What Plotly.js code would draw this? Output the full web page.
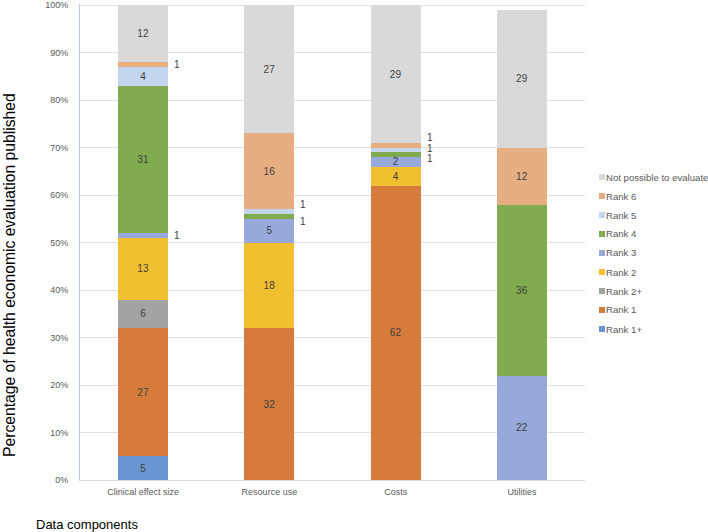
<!DOCTYPE html>
<html>
<head>
<meta charset="utf-8">
<script src="https://cdn.plot.ly/plotly-3.0.1.min.js"></script>
<style>html,body{margin:0;padding:0;background:#fff;}#chart{width:708px;height:532px;}</style>
</head>
<body>
<div id="chart"></div>
<script>
// ---- data ----
var categories = ['Clinical effect size', 'Resource use', 'Costs', 'Utilities'];
var seriesNames = ['Rank 1+', 'Rank 1', 'Rank 2+', 'Rank 2', 'Rank 3', 'Rank 4', 'Rank 5', 'Rank 6', 'Not possible to evaluate'];
var rank1plus = [5, null, null, null];
var rank1     = [27, 32, 62, null];
var rank2plus = [6, null, null, null];
var rank2     = [13, 18, 4, null];
var rank3     = [1, 5, 2, 22];
var rank4     = [31, 1, 1, 36];
var rank5     = [4, 1, 1, null];
var rank6     = [1, 16, 1, 12];
var notPossible = [12, 27, 29, 29];
var yTickVals = [0, 10, 20, 30, 40, 50, 60, 70, 80, 90, 100];

// ---- styling ----
var colors = ['#6A95D3', '#D67B3B', '#A3A3A3', '#F1BF2F', '#97A9DB', '#80AB4F', '#C4D6EF', '#E7AE82', '#D9D9D9'];
var FONT = 'Liberation Sans, Arial, sans-serif';
var W = 708, H = 532;
var M = {l: 80, r: 123, t: 4, b: 52};
var PW = W - M.l - M.r, PH = H - M.t - M.b;
function px2x(p) { return (p - M.l) / PW; }
function px2y(p) { return (H - M.b - p) / PH; }
// vertical nudges (px) for outside labels of thin segments, keyed "categoryIndex-seriesIndex"
var labelNudge = {'1-5': -5, '1-6': 7, '2-5': -4, '2-6': 2, '2-7': 7.5};

var allSeries = [rank1plus, rank1, rank2plus, rank2, rank3, rank4, rank5, rank6, notPossible];

var traces = allSeries.map(function (vals, si) {
  return {
    type: 'bar',
    name: seriesNames[si],
    x: categories,
    y: vals,
    marker: {color: colors[si]},
    text: vals.map(function (v) { return (v !== null && v > 1) ? String(v) : ''; }),
    textposition: 'inside',
    insidetextanchor: 'middle',
    textangle: 0,
    constraintext: 'none',
    textfont: {family: FONT, size: 10, color: '#404040'},
    hoverinfo: 'skip',
    showlegend: false
  };
});

var annotations = [];
var shapes = [];

// outside labels for thin (value 1) segments
categories.forEach(function (cat, ci) {
  var cum = 0;
  allSeries.forEach(function (vals, si) {
    var v = vals[ci];
    if (v === null) return;
    if (v <= 1) {
      annotations.push({
        x: cat, y: cum + v / 2, xref: 'x', yref: 'y',
        text: String(v), showarrow: false,
        xanchor: 'left', yanchor: 'middle',
        xshift: 29, yshift: labelNudge[ci + '-' + si] || 0,
        font: {family: FONT, size: 10, color: '#404040'}
      });
    }
    cum += v;
  });
});

// legend (reversed order: last series on top)
var legTop = 177, legStep = 19, swL = 599, sw = 6, txtL = 604;
for (var k = 0; k < seriesNames.length; k++) {
  var si = seriesNames.length - 1 - k;
  var cy = legTop + k * legStep;
  shapes.push({
    type: 'rect', xref: 'paper', yref: 'paper',
    x0: px2x(swL), x1: px2x(swL + sw), y0: px2y(cy + sw / 2), y1: px2y(cy - sw / 2),
    fillcolor: colors[si], line: {width: 0}
  });
  annotations.push({
    text: seriesNames[si], xref: 'paper', yref: 'paper',
    x: px2x(txtL), y: px2y(cy), xanchor: 'left', yanchor: 'middle', showarrow: false,
    font: {family: FONT, size: 9.6, color: '#595959'}
  });
}

annotations.push({
  text: 'Percentage of health economic evaluation published',
  xref: 'paper', yref: 'paper', x: px2x(9.5), y: px2y(275.5),
  xanchor: 'center', yanchor: 'middle', textangle: -90, showarrow: false,
  font: {family: FONT, size: 15.7, color: '#000000'}
});
annotations.push({
  text: 'Data components',
  xref: 'paper', yref: 'paper', x: px2x(34), y: px2y(524),
  xanchor: 'left', yanchor: 'middle', showarrow: false,
  font: {family: FONT, size: 13, color: '#000000'}
});

var layout = {
  width: W, height: H,
  margin: {l: M.l, r: M.r, t: M.t, b: M.b, pad: 0},
  paper_bgcolor: '#ffffff', plot_bgcolor: '#ffffff',
  barmode: 'stack',
  bargap: 0.604,
  showlegend: false,
  xaxis: {
    type: 'category',
    showline: true, linecolor: '#D9D9D9', linewidth: 1,
    ticks: '', showgrid: false, zeroline: false,
    ticklabelstandoff: 3,
    tickfont: {family: FONT, size: 9, color: '#595959'},
    fixedrange: true
  },
  yaxis: {
    range: [0, 100.25],
    tickvals: yTickVals,
    ticktext: yTickVals.map(function (t) { return t + '%'; }),
    showline: true, linecolor: '#B9CBE6', linewidth: 1,
    showgrid: true, gridcolor: '#E0E0E0', gridwidth: 1,
    zeroline: false, ticks: '',
    ticklabelstandoff: 9,
    tickfont: {family: FONT, size: 9, color: '#595959'},
    fixedrange: true
  },
  annotations: annotations,
  shapes: shapes
};

Plotly.newPlot('chart', traces, layout, {staticPlot: true, displayModeBar: false});
</script>
</body>
</html>
